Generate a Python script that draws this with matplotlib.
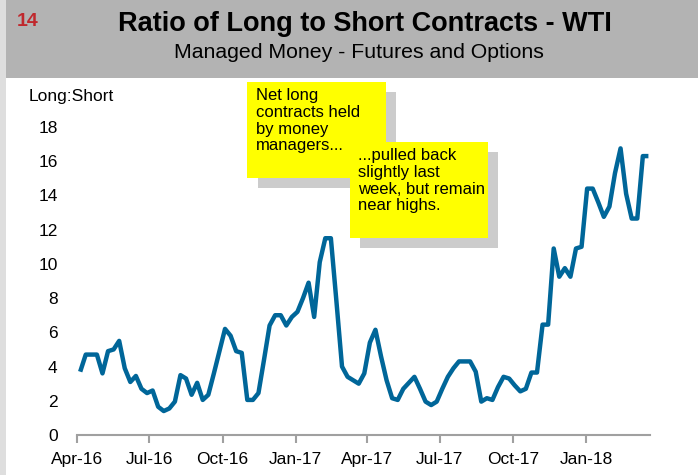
import matplotlib
matplotlib.use("Agg")
import matplotlib.pyplot as plt
import matplotlib.dates as mdates
from matplotlib.patches import Rectangle
import numpy as np
import pandas as pd

plt.rcParams['font.family'] = ['Liberation Sans', 'DejaVu Sans']

# weekly ratio of long to short contracts (managed money, WTI)
start_date = '2016-04-05'
ratio = [3.7, 4.7, 4.7, 4.7, 3.6, 4.9, 5.0, 5.5, 3.9, 3.1,
         3.45, 2.7, 2.45, 2.6, 1.65, 1.4, 1.55, 1.95, 3.5, 3.3,
         2.35, 3.05, 2.05, 2.35, 3.6, 4.9, 6.2, 5.8, 4.9, 4.8,
         2.05, 2.05, 2.45, 4.4, 6.4, 7.0, 7.0, 6.4, 6.9, 7.2,
         8.0, 8.9, 6.9, 10.1, 11.5, 11.5, 7.8, 4.0, 3.4, 3.2,
         3.0, 3.6, 5.4, 6.15, 4.6, 3.2, 2.15, 2.05, 2.7, 3.05,
         3.4, 2.7, 1.95, 1.75, 1.95, 2.7, 3.4, 3.9, 4.3, 4.3,
         4.3, 3.7, 1.95, 2.15, 2.05, 2.8, 3.4, 3.3, 2.9, 2.55,
         2.7, 3.65, 3.65, 6.45, 6.45, 10.9, 9.25, 9.75, 9.25, 10.9,
         11.0, 14.4, 14.4, 13.6, 12.75, 13.35, 15.3, 16.75, 14.1, 12.65,
         12.65, 16.3, 16.3]
dates = pd.date_range(start_date, periods=len(ratio), freq='7D')

tick_dates = pd.date_range('2016-04-01', '2018-01-01', freq='QS')
y_ticks = np.arange(0, 19, 2)

title = 'Ratio of Long to Short Contracts - WTI'
subtitle = 'Managed Money - Futures and Options'
note_1 = 'Net long\ncontracts held\nby money\nmanagers...'
note_2 = '...pulled back\nslightly last\nweek, but remain\nnear highs.'

W, H = 698, 475
fig = plt.figure(figsize=(W / 100, H / 100), dpi=100)
fig.patch.set_facecolor('white')


def box(x0, y0, x1, y1, color, z=1):
    # pixel box (top-left origin) -> figure coords
    fig.add_artist(Rectangle((x0 / W, 1 - y1 / H), (x1 - x0) / W, (y1 - y0) / H,
                             transform=fig.transFigure, facecolor=color,
                             edgecolor='none', zorder=z))


# header band and left strip
box(0, 0, 6, H, '#dedede')
box(6, 0, W, 78, '#b3b3b3')
fig.text(17 / W, 1 - 21.5 / H, '14', color='#c0282d', fontsize=14,
         fontweight='bold', va='center', ha='left')
fig.text(364.5 / W, 1 - 24 / H, title, fontsize=19.5, fontweight='bold',
         ha='center', va='center')
fig.text(359 / W, 1 - 53 / H, subtitle, fontsize=15.3, ha='center', va='center')

ax = fig.add_axes([77 / W, (H - 435) / H, (650 - 77) / W, (435 - 127) / H])
ax.plot(dates, ratio, color='#006699', lw=3.2, solid_joinstyle='round',
        solid_capstyle='butt', clip_on=False)
ax.set_ylim(0, 18)
ax.set_xlim(pd.Timestamp('2016-04-01'), pd.Timestamp('2018-03-22'))
ax.set_yticks(y_ticks)
ax.set_xticks(tick_dates)
ax.xaxis.set_major_formatter(mdates.DateFormatter('%b-%y'))
for s in ['top', 'right', 'left']:
    ax.spines[s].set_visible(False)
ax.spines['bottom'].set_color('#a0a0a0')
ax.spines['bottom'].set_linewidth(1.5)
ax.tick_params(axis='x', direction='out', length=6, width=1.5,
               color='#a0a0a0', labelsize=12.5, pad=6)
ax.tick_params(axis='y', length=0, labelsize=12.5, pad=14)
ax.set_facecolor('none')
fig.text(29 / W, 1 - 97 / H, 'Long:Short', fontsize=12.5, ha='left', va='center')

# call-out notes with drop shadows
box(258, 92, 396, 188, '#cccccc', 5)
box(247, 82, 386, 178, '#ffff00', 6)
box(360, 152, 498, 248, '#cccccc', 7)
box(350, 142, 488, 238, '#ffff00', 8)
fig.text(256 / W, 1 - 88 / H, note_1, fontsize=12, va='top', ha='left',
         linespacing=1.15, zorder=9)
fig.text(358 / W, 1 - 148 / H, note_2, fontsize=12, va='top', ha='left',
         linespacing=1.15, zorder=9)

fig.savefig('out.png', dpi=100)
